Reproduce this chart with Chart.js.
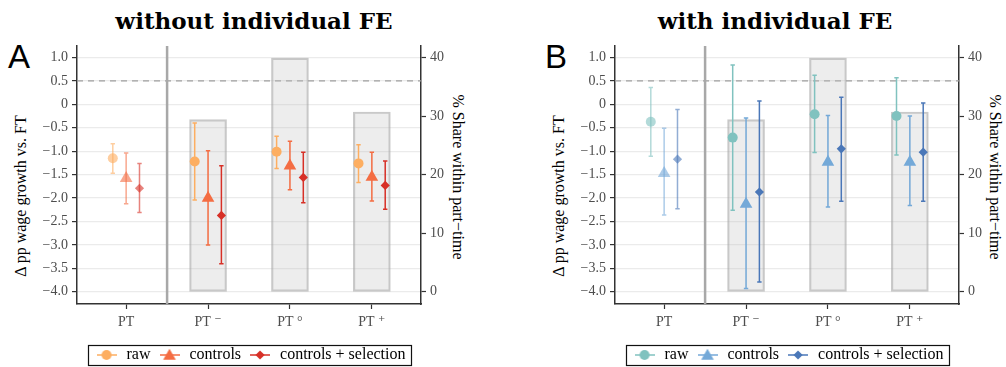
<!DOCTYPE html>
<html>
<head>
<meta charset="utf-8">
<script src="https://cdn.jsdelivr.net/npm/chart.js@4.4.0/dist/chart.umd.min.js"></script>
<style>
  body { margin: 0; width: 1006px; height: 367px; overflow: hidden; position: relative; background: #fff;
         font-family: 'Liberation Serif', 'DejaVu Serif', serif; }
  canvas { position: absolute; top: 0; }
  .title { position: absolute; top: 9px; width: 400px; text-align: center; font-family: 'DejaVu Serif', serif;
           font-weight: bold; font-size: 23px; line-height: 1; }
  .tag { position: absolute; top: 40px; font-family: 'Liberation Sans', Arial, sans-serif; font-size: 33px; line-height: 1; }
  .axt { position: absolute; font-size: 16px; line-height: 1; white-space: nowrap; }
  .axt.l { transform: translate(-50%, -50%) rotate(-90deg); }
  .axt.r { transform: translate(-50%, -50%) rotate(90deg); }
</style>
</head>
<body>
<div class="title" style="left:54px">without individual FE</div>
<div class="title" style="left:575px">with individual FE</div>
<div class="tag" style="left:8px">A</div>
<div class="tag" style="left:545px">B</div>
<div class="axt l" style="left:21px; top:196px">Δ pp wage growth vs. FT</div>
<div class="axt r" style="left:458px; top:177px">% Share within part−time</div>
<div class="axt l" style="left:559px; top:196px">Δ pp wage growth vs. FT</div>
<div class="axt r" style="left:995px; top:177px">% Share within part−time</div>
<canvas id="chartA" width="500" height="376" style="left:0"></canvas>
<canvas id="chartB" width="500" height="376" style="left:538px"></canvas>
<script>
// categories and tick labels
const categories = ["PT", "PT \u207B", "PT \u00B0", "PT \u207A"];
const seriesNames = ["raw", "controls", "controls + selection"];
const yTicks = [-4, -3.5, -3, -2.5, -2, -1.5, -1, -0.5, 0, 0.5, 1];
const shareTicks = [0, 10, 20, 30, 40];

// % share within part-time (grey bars), none for PT
const shareWithinPT = [null, 29.4, 39.9, 30.7];

// panel A: without individual FE
const rawA = [-1.15, -1.22, -1.01, -1.26];
const rawALo = [-1.47, -2.04, -1.37, -1.67];
const rawAHi = [-0.84, -0.40, -0.68, -0.86];
const ctrlA = [-1.58, -2.00, -1.31, -1.55];
const ctrlALo = [-2.12, -3.00, -1.82, -2.06];
const ctrlAHi = [-1.04, -0.99, -0.79, -1.02];
const selA = [-1.79, -2.37, -1.56, -1.73];
const selALo = [-2.31, -3.40, -2.10, -2.24];
const selAHi = [-1.26, -1.31, -1.02, -1.21];

// panel B: with individual FE
const rawB = [-0.37, -0.71, -0.21, -0.25];
const rawBLo = [-1.11, -2.26, -1.03, -1.08];
const rawBHi = [0.36, 0.84, 0.62, 0.57];
const ctrlB = [-1.47, -2.13, -1.23, -1.23];
const ctrlBLo = [-2.36, -3.93, -2.19, -2.16];
const ctrlBHi = [-0.51, -0.29, -0.24, -0.25];
const selB = [-1.17, -1.87, -0.95, -1.02];
const selBLo = [-2.23, -3.79, -2.07, -2.07];
const selBHi = [-0.11, 0.07, 0.15, 0.03];

const refLevel = 0.5;     // dashed line
const separatorAt = 1.5;  // vertical line between PT and the split groups

// styling
const serif = "'Liberation Serif', 'DejaVu Serif', serif";
const paletteA = ["#fdae61", "#f46d43", "#d73027"];
const paletteB = ["#80c2bf", "#74a9d8", "#4a77b8"];
const catAlpha = [0.6, 1, 1, 1];
const dodge = [-0.163, 0, 0.163];
const markers = ["circle", "triangle", "rectRot"];
const markerSize = [5, 7.3, 4.6];

function rgba(hex, a) {
  const n = parseInt(hex.slice(1), 16);
  return `rgba(${n >> 16},${(n >> 8) & 255},${n & 255},${a})`;
}

function shapePath(ctx, style, r, x, y) {
  ctx.beginPath();
  if (style === "circle") {
    ctx.arc(x, y, r, 0, Math.PI * 2);
  } else if (style === "triangle") {
    for (let k = 0; k < 3; k++) {
      const a = k * 2 * Math.PI / 3;
      ctx[k ? "lineTo" : "moveTo"](x + Math.sin(a) * r, y - Math.cos(a) * r);
    }
    ctx.closePath();
  } else {
    ctx.moveTo(x - r, y); ctx.lineTo(x, y - r); ctx.lineTo(x + r, y); ctx.lineTo(x, y + r);
    ctx.closePath();
  }
}

function legendSymbol(color, s) {
  const c = document.createElement("canvas");
  c.width = 20; c.height = 16;
  const ctx = c.getContext("2d");
  ctx.strokeStyle = color; ctx.lineWidth = 1.5;
  ctx.beginPath(); ctx.moveTo(0, 8); ctx.lineTo(20, 8); ctx.stroke();
  ctx.fillStyle = color;
  shapePath(ctx, markers[s], markerSize[s], 10, s === 1 ? 9 : 8);
  ctx.fill();
  return c;
}

const yMin = -4.26, yMax = 1.245;
const toShare = v => (v + 4) * 8;

const guides = {
  id: "guides",
  beforeDatasetsDraw(chart) {
    const { ctx, chartArea: a, scales } = chart;
    const yy = scales.y.getPixelForValue(refLevel);
    const xx = scales.x.getPixelForValue(separatorAt);
    ctx.save();
    ctx.strokeStyle = "#a0a0a0"; ctx.lineWidth = 1.2; ctx.setLineDash([6, 5]);
    ctx.beginPath(); ctx.moveTo(a.left, yy); ctx.lineTo(a.right, yy); ctx.stroke();
    ctx.setLineDash([]);
    ctx.strokeStyle = "#a8a8a8"; ctx.lineWidth = 2.5;
    ctx.beginPath(); ctx.moveTo(xx, a.top); ctx.lineTo(xx, a.bottom); ctx.stroke();
    ctx.restore();
  }
};

const errorBars = {
  id: "errorBars",
  beforeDatasetDraw(chart, args) {
    const ds = chart.data.datasets[args.index];
    if (!ds.errLo) return;
    const { ctx, scales } = chart;
    ctx.save();
    ctx.lineWidth = 1.5;
    ds.data.forEach((p, i) => {
      const x = scales.x.getPixelForValue(p.x);
      const lo = scales.y.getPixelForValue(ds.errLo[i]);
      const hi = scales.y.getPixelForValue(ds.errHi[i]);
      ctx.strokeStyle = ds.backgroundColor[i];
      ctx.beginPath();
      ctx.moveTo(x, lo); ctx.lineTo(x, hi);
      ctx.moveTo(x - 2.2, lo); ctx.lineTo(x + 2.2, lo);
      ctx.moveTo(x - 2.2, hi); ctx.lineTo(x + 2.2, hi);
      ctx.stroke();
    });
    ctx.restore();
  }
};

const legendFrame = {
  id: "legendFrame",
  afterDraw(chart) {
    const hb = chart.legend.legendHitBoxes;
    if (!hb || !hb.length) return;
    const last = hb[hb.length - 1];
    const cy = hb[0].top + hb[0].height / 2;
    const ctx = chart.ctx;
    ctx.save();
    ctx.strokeStyle = "#111"; ctx.lineWidth = 1.2;
    ctx.strokeRect(Math.round(hb[0].left - 7) + 0.5, Math.round(cy - 10) + 0.5,
      Math.round(last.left + last.width + 5 - hb[0].left + 7), 20);
    ctx.restore();
  }
};

function buildPanel(id, vals, lows, highs, palette) {
  const datasets = [{
    type: "bar",
    label: "share",
    data: shareWithinPT.map((v, i) => ({ x: i + 1, y: v })).filter(p => p.y !== null),
    yAxisID: "y2",
    backgroundColor: "rgba(190,190,190,0.28)",
    borderColor: "rgba(165,165,165,0.6)",
    borderWidth: 1.5,
    borderSkipped: false,
    barThickness: 37,
    order: 2
  }];
  seriesNames.forEach((name, s) => {
    datasets.push({
      type: "scatter",
      label: name,
      data: vals[s].map((v, i) => ({ x: i + 1 + dodge[s], y: v })),
      errLo: lows[s],
      errHi: highs[s],
      yAxisID: "y",
      pointStyle: markers[s],
      pointRadius: markerSize[s],
      pointHoverRadius: markerSize[s],
      borderWidth: 0,
      backgroundColor: categories.map((c, i) => rgba(palette[s], catAlpha[i])),
      order: 1
    });
  });
  const symbols = palette.map((c, s) => legendSymbol(c, s));

  new Chart(document.getElementById(id), {
    type: "scatter",
    data: { datasets },
    plugins: [guides, errorBars, legendFrame],
    options: {
      responsive: false,
      animation: false,
      devicePixelRatio: 1,
      layout: { padding: { top: 46, left: 0, right: 0, bottom: 3 } },
      plugins: {
        tooltip: { enabled: false },
        legend: {
          position: "bottom",
          onClick: null,
          labels: {
            usePointStyle: true,
            pointStyleWidth: 24,
            padding: 7,
            color: "#000",
            font: { family: serif, size: 16 },
            generateLabels: () => seriesNames.map((n, s) => ({
              text: n, pointStyle: symbols[s], datasetIndex: s + 1, hidden: false,
              lineWidth: 0, fontColor: "#000", fillStyle: palette[s], strokeStyle: palette[s]
            }))
          }
        }
      },
      scales: {
        x: {
          type: "linear", min: 0.4, max: 4.6, offset: false,
          afterBuildTicks: sc => { sc.ticks = categories.map((c, i) => ({ value: i + 1 })); },
          afterFit: sc => { sc.height = 36; },
          ticks: { callback: v => categories[v - 1], color: "#4d4d4d", font: { family: serif, size: 14 },
                   padding: 5, maxRotation: 0, autoSkip: false },
          grid: { drawOnChartArea: false, offset: false, tickLength: 5, tickColor: "#333", tickWidth: 1.2 },
          border: { color: "#333", width: 1.5 }
        },
        y: {
          position: "left", min: yMin, max: yMax,
          afterBuildTicks: sc => { sc.ticks = yTicks.map(v => ({ value: v })); },
          afterFit: sc => { sc.width = 77; },
          ticks: { callback: v => v === 0 ? "0" : v.toFixed(1).replace("-", "\u2212"),
                   color: "#4d4d4d", font: { family: serif, size: 14 }, padding: 4 },
          grid: { color: "#ebebeb", lineWidth: 1.2, tickLength: 5, tickColor: "#333", tickWidth: 1.2 },
          border: { color: "#333", width: 1.5 }
        },
        y2: {
          position: "right", min: toShare(yMin), max: toShare(yMax),
          afterBuildTicks: sc => { sc.ticks = shareTicks.map(v => ({ value: v })); },
          afterFit: sc => { sc.width = 79; },
          ticks: { callback: v => String(v), color: "#4d4d4d", font: { family: serif, size: 14 }, padding: 4 },
          grid: { drawOnChartArea: false, tickLength: 5, tickColor: "#333", tickWidth: 1.2 },
          border: { color: "#333", width: 1.5 }
        }
      }
    }
  });
}

buildPanel("chartA", [rawA, ctrlA, selA], [rawALo, ctrlALo, selALo], [rawAHi, ctrlAHi, selAHi], paletteA);
buildPanel("chartB", [rawB, ctrlB, selB], [rawBLo, ctrlBLo, selBLo], [rawBHi, ctrlBHi, selBHi], paletteB);
</script>
</body>
</html>
